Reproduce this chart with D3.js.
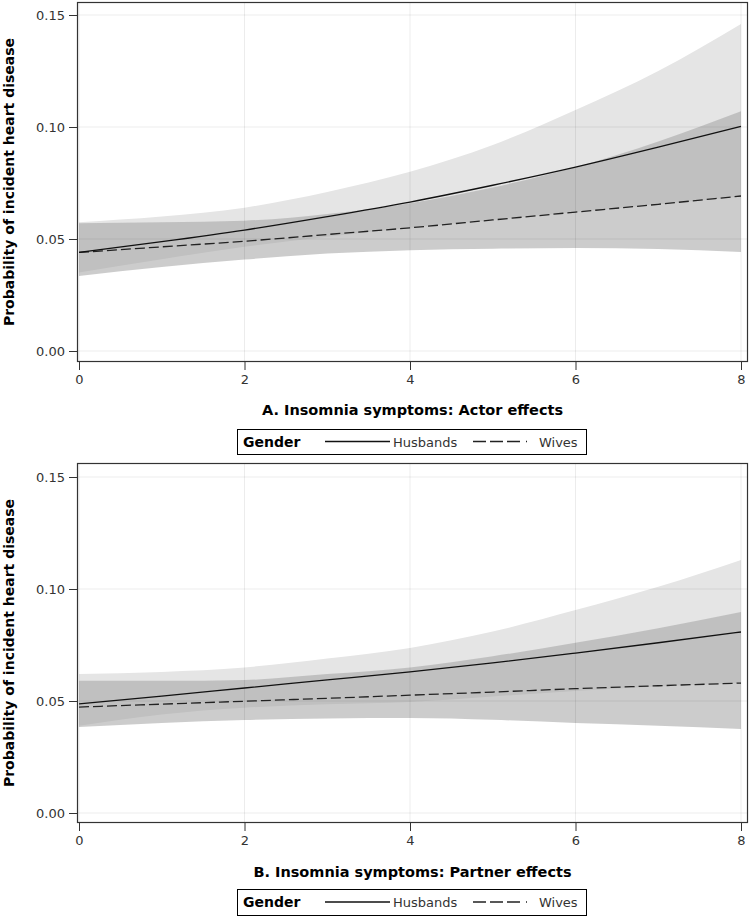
<!DOCTYPE html>
<html>
<head>
<meta charset="utf-8">
<script src="https://cdn.jsdelivr.net/npm/d3@7"></script>
<style>
  html, body { margin: 0; padding: 0; background: #fff; }
  svg { display: block; }
</style>
</head>
<body>
<svg id="chart" width="750" height="918"></svg>
<script>
// ---- Data ----
const xValues = [0, 1, 2, 3, 4, 5, 6, 7, 8];
const yTicks = [0.00, 0.05, 0.10, 0.15];
const xTicks = [0, 2, 4, 6, 8];
const legendLabels = ["Husbands", "Wives"];
const panelTitles = ["A. Insomnia symptoms: Actor effects", "B. Insomnia symptoms: Partner effects"];
const yTitle = "Probability of incident heart disease";
const legendTitle = "Gender";

// Panel A: Actor effects
const husbandsA      = [0.0440, 0.0488, 0.0540, 0.0600, 0.0665, 0.0740, 0.0821, 0.0910, 0.1003];
const husbandsALower = [0.0350, 0.0410, 0.0465, 0.0510, 0.0550, 0.0585, 0.0620, 0.0655, 0.0690];
const husbandsAUpper = [0.0575, 0.0600, 0.0640, 0.0710, 0.0800, 0.0920, 0.1076, 0.1250, 0.1460];
const wivesA         = [0.0440, 0.0465, 0.0490, 0.0520, 0.0550, 0.0585, 0.0620, 0.0655, 0.0692];
const wivesALower    = [0.0335, 0.0375, 0.0408, 0.0435, 0.0450, 0.0457, 0.0460, 0.0455, 0.0442];
const wivesAUpper    = [0.0570, 0.0575, 0.0582, 0.0612, 0.0660, 0.0730, 0.0820, 0.0935, 0.1070];

// Panel B: Partner effects
const husbandsB      = [0.0487, 0.0522, 0.0558, 0.0594, 0.0630, 0.0670, 0.0714, 0.0760, 0.0808];
const husbandsBLower = [0.0390, 0.0440, 0.0470, 0.0485, 0.0496, 0.0520, 0.0545, 0.0565, 0.0580];
const husbandsBUpper = [0.0620, 0.0630, 0.0650, 0.0690, 0.0737, 0.0810, 0.0906, 0.1010, 0.1130];
const wivesB         = [0.0473, 0.0486, 0.0499, 0.0512, 0.0526, 0.0540, 0.0555, 0.0568, 0.0580];
const wivesBLower    = [0.0384, 0.0402, 0.0415, 0.0422, 0.0424, 0.0416, 0.0402, 0.0390, 0.0375];
const wivesBUpper    = [0.0590, 0.0590, 0.0594, 0.0620, 0.0650, 0.0700, 0.0760, 0.0825, 0.0897];

const panels = [
  { title: panelTitles[0], h: husbandsA, hl: husbandsALower, hu: husbandsAUpper,
    w: wivesA, wl: wivesALower, wu: wivesAUpper,
    frameTop: 2, frameBottom: 362, yTop: 15, yBottom: 351, titleY: 415, legendTop: 429, legendH: 25 },
  { title: panelTitles[1], h: husbandsB, hl: husbandsBLower, hu: husbandsBUpper,
    w: wivesB, wl: wivesBLower, wu: wivesBUpper,
    frameTop: 463, frameBottom: 823, yTop: 477, yBottom: 813, titleY: 877, legendTop: 889, legendH: 26 }
];

const svg = d3.select("#chart");
const FONT = "DejaVu Sans, Verdana, sans-serif";
const frameLeft = 77, frameRight = 748;
const x = d3.scaleLinear().domain([0, 8]).range([79, 741]);

panels.forEach((p, pi) => {
  const y = d3.scaleLinear().domain([0, 0.15]).range([p.yBottom, p.yTop]);
  const g = svg.append("g");
  const clipId = "clip" + pi;
  g.append("clipPath").attr("id", clipId).append("rect")
    .attr("x", frameLeft).attr("y", p.frameTop)
    .attr("width", frameRight - frameLeft).attr("height", p.frameBottom - p.frameTop);

  const plot = g.append("g").attr("clip-path", `url(#${clipId})`);

  const area = (lo, hi) => d3.area()
    .x((d, i) => x(xValues[i]))
    .y0((d, i) => y(lo[i]))
    .y1((d, i) => y(hi[i]))
    .curve(d3.curveMonotoneX)(xValues);

  // Husbands band (light)
  plot.append("path").attr("d", area(p.hl, p.hu)).attr("fill", "#e5e5e5");
  // Wives band (semi-transparent, darker where overlapping)
  plot.append("path").attr("d", area(p.wl, p.wu))
    .attr("fill", "rgb(160,160,160)").attr("fill-opacity", 0.54);

  // Gridlines
  plot.selectAll(".gx").data(xTicks).enter().append("line")
    .attr("x1", d => x(d)).attr("x2", d => x(d))
    .attr("y1", p.frameTop).attr("y2", p.frameBottom)
    .attr("stroke", "#000").attr("stroke-opacity", 0.075).attr("stroke-width", 1);
  plot.selectAll(".gy").data(yTicks).enter().append("line")
    .attr("x1", frameLeft).attr("x2", frameRight)
    .attr("y1", d => y(d)).attr("y2", d => y(d))
    .attr("stroke", "#000").attr("stroke-opacity", 0.075).attr("stroke-width", 1);

  const line = vals => d3.line()
    .x((d, i) => x(xValues[i]))
    .y((d, i) => y(vals[i]))
    .curve(d3.curveMonotoneX)(xValues);

  plot.append("path").attr("d", line(p.w)).attr("fill", "none")
    .attr("stroke", "#222").attr("stroke-width", 1.3).attr("stroke-dasharray", "10,4");
  plot.append("path").attr("d", line(p.h)).attr("fill", "none")
    .attr("stroke", "#111").attr("stroke-width", 1.3);

  // Frame
  g.append("rect").attr("x", frameLeft + 0.5).attr("y", p.frameTop + 0.5)
    .attr("width", frameRight - frameLeft - 1).attr("height", p.frameBottom - p.frameTop - 1)
    .attr("fill", "none").attr("stroke", "#333").attr("stroke-width", 1.2);

  // Y axis
  const yAxis = d3.axisLeft(y).tickValues(yTicks).tickFormat(d3.format(".2f")).tickSize(8).tickPadding(4);
  const ya = g.append("g").attr("transform", `translate(${frameLeft},0)`).call(yAxis);
  ya.select(".domain").remove();
  ya.selectAll("line").attr("stroke", "#333");
  ya.selectAll("text").attr("font-family", FONT).attr("font-size", 13).attr("fill", "#333");

  // X axis
  const xAxis = d3.axisBottom(x).tickValues(xTicks).tickFormat(d3.format("d")).tickSize(8).tickPadding(5);
  const xa = g.append("g").attr("transform", `translate(0,${p.frameBottom})`).call(xAxis);
  xa.select(".domain").remove();
  xa.selectAll("line").attr("stroke", "#333");
  xa.selectAll("text").attr("font-family", FONT).attr("font-size", 13).attr("fill", "#333");

  // Y title
  const yMid = (p.frameTop + p.frameBottom) / 2;
  g.append("text").attr("transform", `translate(14,${yMid}) rotate(-90)`)
    .attr("text-anchor", "middle").attr("font-family", FONT).attr("font-weight", "bold")
    .attr("font-size", 14).attr("fill", "#000").text(yTitle);

  // X title
  g.append("text").attr("x", (frameLeft + frameRight) / 2).attr("y", p.titleY)
    .attr("text-anchor", "middle").attr("font-family", FONT).attr("font-weight", "bold")
    .attr("font-size", 14.5).attr("fill", "#000").text(p.title);

  // Legend
  const lg = g.append("g").attr("transform", `translate(237,${p.legendTop})`);
  lg.append("rect").attr("x", 0.5).attr("y", 0.5).attr("width", 349).attr("height", p.legendH)
    .attr("fill", "#fff").attr("stroke", "#000").attr("stroke-width", 1);
  const base = p.legendH / 2 + 5;
  lg.append("text").attr("x", 6).attr("y", base).attr("font-family", FONT).attr("font-weight", "bold")
    .attr("font-size", 14).attr("fill", "#000").text(legendTitle);
  lg.append("line").attr("x1", 88).attr("x2", 153).attr("y1", p.legendH / 2).attr("y2", p.legendH / 2)
    .attr("stroke", "#111").attr("stroke-width", 1.3);
  lg.append("text").attr("x", 156).attr("y", base).attr("font-family", FONT)
    .attr("font-size", 13).attr("fill", "#333").text(legendLabels[0]);
  lg.append("line").attr("x1", 236).attr("x2", 294).attr("y1", p.legendH / 2).attr("y2", p.legendH / 2)
    .attr("stroke", "#222").attr("stroke-width", 1.3).attr("stroke-dasharray", "13,4,13,4,13,6,1,6");
  lg.append("text").attr("x", 302).attr("y", base).attr("font-family", FONT)
    .attr("font-size", 13).attr("fill", "#333").text(legendLabels[1]);
});
</script>
</body>
</html>
